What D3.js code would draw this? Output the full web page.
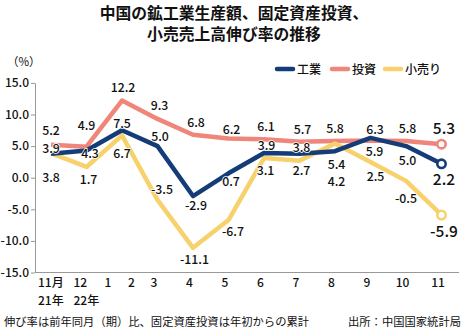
<!DOCTYPE html>
<html>
<head>
<meta charset="utf-8">
<script src="https://cdn.jsdelivr.net/npm/d3@7"></script>
<style>
  body { margin: 0; background: #fff; }
  svg { display: block; font-family: "Noto Sans CJK JP", "Noto Sans", sans-serif; }
</style>
</head>
<body>
<svg id="canvas" width="465" height="330"></svg>
<script>
// months: Nov-21, Dec-21, Jan-Feb 22 (combined), Mar ... Nov-22
const months = ["2021-11", "2021-12", "2022-01/02", "2022-03", "2022-04", "2022-05",
  "2022-06", "2022-07", "2022-08", "2022-09", "2022-10", "2022-11"];
const industry = [3.8, 4.3, 7.5, 5.0, -2.9, 0.7, 3.9, 3.8, 4.2, 6.3, 5.0, 2.2];
const investment = [5.2, 4.9, 12.2, 9.3, 6.8, 6.2, 6.1, 5.7, 5.8, 5.9, 5.8, 5.3];
const retail = [3.9, 1.7, 6.7, -3.5, -11.1, -6.7, 3.1, 2.7, 5.4, 2.5, -0.5, -5.9];
const yTicks = [-15, -10, -5, 0, 5, 10, 15];
// x tick labels: [month index, line1, line2, side]
const xTickLabels = [
  [0, "11月", "21年"], [1, "12", "22年"], [2, "1", "", "left"], [2, "2", "", "right"],
  [3, "3"], [4, "4"], [5, "5"], [6, "6"], [7, "7"], [8, "8"], [9, "9"], [10, "10"], [11, "11"]
];

// label nudges (dx, dy from the point)
const nudge = {
  investment: [[0, -14], [0, -21], [1, -13], [2, -13], [3, -12], [3, -8.5], [2, -12.5], [3, -12], [0, -12.5], [4, 11], [1.5, -12], [2.5, -16]],
  industry: [[0, 24], [3.5, 3], [0, -7], [2.5, -9.5], [3, 9.5], [2.5, 8], [2.5, -7], [2, -6.5], [1.5, 30.5], [4.5, -8], [1.5, 14.5], [2.5, 15.5]],
  retail: [[0, -4], [2, 13], [0, 18.5], [4.5, -10], [1.5, 12], [4.5, 11.5], [1.5, 12.5], [2, 10], [1.5, 20.5], [5, 15], [0, 17.5], [2.5, 16]]
};

const series = [
  { key: "investment", name: "投資", values: investment, color: "#f0857a" },
  { key: "retail", name: "小売り", values: retail, color: "#f7d16c" },
  { key: "industry", name: "工業", values: industry, color: "#143d78" }
];
const legendOrder = ["industry", "investment", "retail"];

const svg = d3.select("#canvas");
const ink = "#111";

const x = d3.scalePoint().domain(months).range([51, 441.5]);
const y = d3.scaleLinear().domain([-15, 15]).range([272.5, 82.9]);

// title
svg.append("text")
  .attr("x", 234).attr("y", 0)
  .attr("text-anchor", "middle")
  .attr("font-weight", "bold").attr("font-size", 15.8).attr("fill", ink)
  .selectAll("tspan")
  .data(["中国の鉱工業生産額、固定資産投資、", "小売売上高伸び率の推移"])
  .join("tspan")
  .attr("x", 234)
  .attr("y", (d, i) => 19 + i * 20.5)
  .text((d) => d);

svg.append("text")
  .attr("x", 7).attr("y", 66)
  .attr("font-size", 11.5).attr("fill", ink)
  .text("（%）");

// y axis
const yAxis = svg.append("g")
  .attr("transform", "translate(35,0)")
  .call(d3.axisLeft(y).tickValues(yTicks).tickFormat((d) => d.toFixed(1)).tickSize(4).tickSizeOuter(0).tickPadding(2));
yAxis.select(".domain").attr("stroke", "#999");
yAxis.selectAll(".tick line").attr("stroke", "#999");
yAxis.selectAll(".tick text")
  .attr("font-family", "Noto Sans CJK JP").attr("font-weight", 500)
  .attr("font-size", 12).attr("fill", ink);

// x baseline
svg.append("line")
  .attr("x1", 35).attr("x2", 459)
  .attr("y1", y(-15)).attr("y2", y(-15))
  .attr("stroke", "#999");

const xt = svg.append("g").attr("font-size", 12).attr("font-weight", 500).attr("fill", ink);
xTickLabels.forEach(([i, l1, l2, side]) => {
  const px = x(months[i]);
  const t = xt.append("text").attr("y", 287);
  if (l2) {
    t.attr("x", px - 13).attr("text-anchor", "start").text(l1);
    xt.append("text").attr("x", px - 13).attr("y", 305).attr("text-anchor", "start").text(l2);
  } else if (side === "left") {
    t.attr("x", px - 14).attr("text-anchor", "middle").text(l1);
  } else if (side === "right") {
    t.attr("x", px + 9.5).attr("text-anchor", "middle").text(l1);
  } else {
    t.attr("x", px - 3.5).attr("text-anchor", "middle").text(l1);
  }
});

// lines
const line = d3.line()
  .x((d, i) => x(months[i]))
  .y((d) => y(d));

svg.append("g")
  .selectAll("path")
  .data(series)
  .join("path")
  .attr("d", (s) => line(s.values))
  .attr("fill", "none")
  .attr("stroke", (s) => s.color)
  .attr("stroke-width", 4.5)
  .attr("stroke-linejoin", "round");

// end markers
svg.append("g")
  .selectAll("circle")
  .data(series)
  .join("circle")
  .attr("cx", x(months[months.length - 1]))
  .attr("cy", (s) => y(s.values[s.values.length - 1]))
  .attr("r", 4.2)
  .attr("fill", "#fff")
  .attr("stroke", (s) => s.color)
  .attr("stroke-width", 2.6);

// value labels
const last = months.length - 1;
const labels = svg.append("g");
series.forEach((s) => {
  labels.selectAll(null)
    .data(s.values)
    .join("text")
    .attr("x", (d, i) => x(months[i]) + nudge[s.key][i][0])
    .attr("y", (d, i) => y(d) + nudge[s.key][i][1])
    .attr("dy", "0.36em")
    .attr("text-anchor", "middle")
    .attr("font-size", (d, i) => (i === last ? 15.5 : 12.3))
    .attr("font-weight", 500)
    .attr("fill", ink)
    .attr("stroke", "#fff")
    .attr("stroke-width", 1.5)
    .attr("paint-order", "stroke")
    .text((d) => d.toFixed(1));
});

// legend
const legendX = { industry: 277, investment: 332, retail: 385 };
const legend = svg.append("g");
legendOrder.forEach((k) => {
  const s = series.find((d) => d.key === k);
  legend.append("line")
    .attr("x1", legendX[k]).attr("x2", legendX[k] + 16)
    .attr("y1", 69).attr("y2", 69)
    .attr("stroke", s.color).attr("stroke-width", 4.5).attr("stroke-linecap", "round");
  legend.append("text")
    .attr("x", legendX[k] + 20).attr("y", 73.5)
    .attr("font-size", 12).attr("font-weight", 500).attr("fill", ink)
    .text(s.name);
});

// footer
svg.append("text")
  .attr("x", 4).attr("y", 326)
  .attr("font-size", 11.3).attr("fill", ink)
  .text("伸び率は前年同月（期）比、固定資産投資は年初からの累計");
svg.append("text")
  .attr("x", 461).attr("y", 326)
  .attr("text-anchor", "end")
  .attr("font-size", 11.3).attr("fill", ink)
  .text("出所：中国国家統計局");
</script>
</body>
</html>
